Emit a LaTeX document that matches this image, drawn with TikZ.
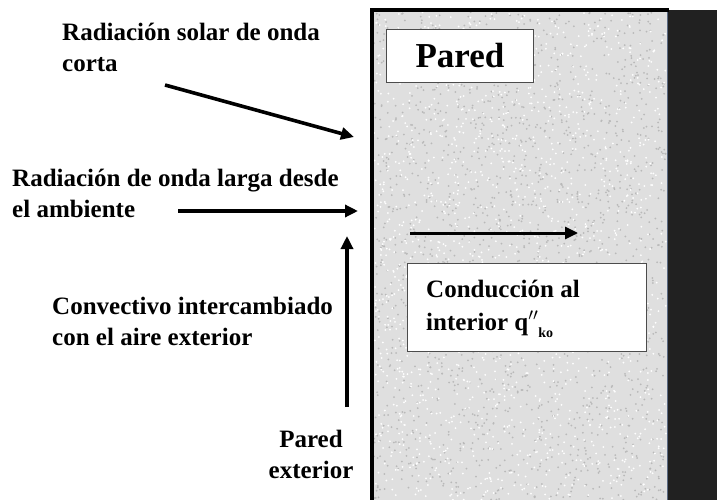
\documentclass[tikz,border=0pt]{standalone}
\usepackage{fontspec}
\setmainfont{Liberation Serif}
\usetikzlibrary{arrows.meta}
\begin{document}
\begin{tikzpicture}[x=1pt,y=-1pt,
  lbl/.style={font=\bfseries\fontsize{25}{31}\selectfont, align=left, inner sep=0pt, anchor=base west},
  flow/.style={line width=3.6pt, -{Triangle[length=13pt,width=12pt]}},
  whitebox/.style={draw=black!70, line width=0.8pt, fill=white}]
\useasboundingbox (0,0) rectangle (717,500);
% wall body
\fill[gray!25] (372,10) rectangle (667,500);
\pgfmathsetseed{11}
\foreach \i in {1,...,1800}{
  \pgfmathsetmacro\xx{374+rnd*292}\pgfmathsetmacro\yy{12+rnd*488}
  \fill[gray!55] (\xx,\yy) circle (1pt);}
\foreach \i in {1,...,1600}{
  \pgfmathsetmacro\xx{374+rnd*292}\pgfmathsetmacro\yy{12+rnd*488}
  \fill[white] (\xx,\yy) circle (1pt);}
% dark panel
\fill[black!87] (667,10) rectangle (717,500);
\draw[line width=1pt, color={rgb,255:red,90;green,105;blue,130}] (667.5,10) -- (667.5,500);
% wall outline
\draw[line width=3.2pt, line cap=rect] (372,500) -- (372,10) -- (667,10);
% boxes
\node[whitebox, minimum width=147pt, minimum height=53pt, anchor=north west] (paredbox) at (386,29) {};
\node[font=\bfseries\fontsize{35}{40}\selectfont, inner sep=0pt] (pared) at (paredbox.center) {Pared};
\node[whitebox, minimum width=239pt, minimum height=88pt, anchor=north west] (condbox) at (407,263) {};
\node[font=\bfseries\fontsize{25}{33}\selectfont, align=left, inner sep=0pt, anchor=base west] (cond) at (426,330)
  {Conducción al\\interior q$''$\raisebox{-0.28em}{\fontsize{14}{14}\selectfont ko}};
% labels
\node[lbl] (solar) at (62,72) {Radiación solar de onda\\corta};
\node[lbl] (larga) at (12,217) {Radiación de onda larga desde\\el ambiente};
\node[lbl] (conv) at (52,345) {Convectivo intercambiado\\con el aire exterior};
\node[font=\bfseries\fontsize{25}{31}\selectfont, align=center, inner sep=0pt, anchor=base] (ext) at (311,478) {Pared\\exterior};
% arrows
\coordinate (s1) at (165,85);  \coordinate (s2) at (354,137);
\coordinate (l1) at (178,211); \coordinate (l2) at (358,211);
\coordinate (c1) at (347,407); \coordinate (c2) at (347,236);
\coordinate (k1) at (410,233); \coordinate (k2) at (578,233);
\draw[flow] (s1) -- (s2);
\draw[flow] (l1) -- (l2);
\draw[flow] (c1) -- (c2);
\draw[flow, line width=3pt] (k1) -- (k2);
\end{tikzpicture}
\end{document}
